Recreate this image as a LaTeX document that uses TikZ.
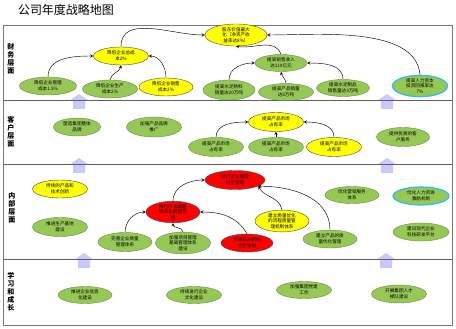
\documentclass[tikz,border=0pt]{standalone}
\usepackage{fontspec}
\setmainfont{Noto Sans CJK SC}
\usetikzlibrary{shapes.geometric}
\definecolor{goalgreen}{RGB}{150,200,85}
\definecolor{goalline}{RGB}{105,140,70}
\definecolor{goalyellow}{RGB}{255,255,0}
\definecolor{goalred}{RGB}{255,0,0}
\definecolor{hrblue}{RGB}{40,190,240}
\definecolor{upblue}{RGB}{200,200,250}
\definecolor{frame}{RGB}{120,120,120}
\tikzset{
  goal/.style={ellipse, draw=goalline, fill=goalgreen, line width=0.4pt,
    minimum width=55pt, minimum height=18pt, inner sep=0pt, align=center,
    font=\fontsize{4.6}{5.6}\selectfont},
  keygoal/.style={goal, draw=black!70, fill=goalyellow},
  hotgoal/.style={goal, draw=black!70, fill=goalred},
  hrgoal/.style={goal, draw=hrblue, line width=1.2pt},
  lane/.style={align=center, inner sep=0pt, font=\bfseries\fontsize{7}{8}\selectfont},
  link/.style={->, line width=0.45pt},
  uparrow/.style={fill=upblue}
}
\begin{document}
\begin{tikzpicture}[x=1pt, y=-1pt, >=stealth]
\useasboundingbox (0,0) rectangle (456,329);
\node (title) at (66,10) {\fontsize{12}{12}\selectfont 公司年度战略地图};
% block arrows between the layers
\foreach \x/\d in {79/100,387/100,79/164,387/164,84/259,386/259}
  \fill[uparrow] (\x-10,\d+1) -- (\x,\d-6) -- (\x+10,\d+1) -- (\x+6,\d+1)
    -- (\x+6,\d+9) -- (\x-6,\d+9) -- (\x-6,\d+1) -- cycle;
\draw[frame, line width=0.8pt] (3,25) rectangle (452,325);
\foreach \d in {100,164,259}
  \draw[frame!80!black, line width=0.8pt] (3,\d) -- (452,\d);
% layer labels
\node[lane] (lfin) at (11,59) {财\\务\\层\\面};
\node[lane] (lcus) at (11,132) {客\\户\\层\\面};
\node[lane] (lint) at (12,208) {内\\部\\层\\面};
\node[lane] (lgrow) at (11,292) {学\\习\\和\\成\\长};
% financial
\node[keygoal, minimum width=62pt, minimum height=22pt] (roe) at (236,35) {股东价值最大\\化（净资产收\\益率达8\%）};
\node[keygoal] (cost) at (121,56) {降低企业总成\\本2\%};
\node[goal, minimum width=57pt] (mcost) at (48,86) {降低企业管理\\成本1.5\%};
\node[goal] (pcost) at (110,89) {降低企业生产\\成本2\%};
\node[keygoal, minimum width=54pt] (scost) at (166,87) {降低企业销售\\成本2\%};
\node[goal, minimum width=52pt, minimum height=17pt] (sales) at (281,63) {提高销售收入\\达110亿元};
\node[goal, minimum width=52pt, minimum height=20pt] (clink) at (229,90) {提高水泥熟料\\销量达20万吨};
\node[goal, minimum height=17pt] (prod) at (286,92) {提高产品销量\\达8万吨};
\node[goal, minimum width=53pt, minimum height=17pt] (serv) at (343,88) {提高水泥制品\\销售量达3万吨};
\node[hrgoal, minimum height=20pt] (hrroi) at (420,86) {提高人力资本\\投资回报率达\\7\%};
\draw[link] (mcost.north) to[out=90,in=180] (cost.west);
\draw[link] (pcost.north) to[out=80,in=-100] (cost.south);
\draw[link] (scost.north) to[out=90,in=0] (cost.east);
\draw[link] (cost.north) to[out=90,in=180] (roe.west);
\draw[link] (sales.north) to[out=110,in=-10] (roe.south);
\draw[link] (clink.north) to[out=90,in=180] (sales.west);
\draw[link] (prod.north) to[out=95,in=-80] (sales.south);
\draw[link] (serv.north) to[out=90,in=0] (sales.east);
\draw[link] (hrroi.north) to[out=95,in=0,looseness=0.8] (roe.east);
% customer
\node[goal, minimum width=47pt] (brand) at (77,127) {塑造集团整体\\品牌};
\node[goal, minimum height=20pt] (promo) at (154,127) {加强产品品牌\\推广};
\node[keygoal, minimum height=19pt] (share) at (276,122) {提高产品市场\\占有率};
\node[goal, minimum height=19pt] (sharea) at (216,147) {提高产品市场\\占有率};
\node[goal, minimum height=19pt] (shareb) at (276,147) {提高产品市场\\占有率};
\node[keygoal, minimum height=19pt] (sharec) at (334,147) {提高产品市场\\占有率};
\node[goal, minimum width=53pt, minimum height=19pt] (care) at (403,137) {提供优质的客\\户服务};
\draw[link] (sharea.north) to[out=90,in=180] (share.west);
\draw[link] (shareb.north) -- (share.south);
\draw[link] (sharec.north) to[out=90,in=0] (share.east);
% internal
\node[keygoal] (innov) at (60,189) {持续的产品和\\技术创新};
\node[goal, minimum height=19pt] (base) at (60,227) {推进生产基地\\建设};
\node[goal, minimum width=54pt, minimum height=19pt] (qsys) at (125,242) {完善企业质量\\管理体系};
\node[goal, minimum height=19pt] (proj) at (183,243) {加强项目管理\\基础管理体系\\建设};
\node[hotgoal, minimum width=54pt, minimum height=19pt] (qstd) at (173,212) {推行产品质量\\标准化质量管\\理};
\node[hotgoal, minimum width=60pt, minimum height=19pt] (mopt) at (235,180) {推行企业管理\\优化管理};
\node[hotgoal, minimum width=52pt] (rnd) at (247,243) {推进研发机构\\优化管理};
\node[keygoal, minimum width=54pt, minimum height=19pt] (qflow) at (282,221) {建立质量优化\\的流程质量管\\理机制体系};
\node[goal, minimum width=54pt] (qprod) at (330,239) {建立产品的质\\量优化管理};
\node[goal, minimum width=54pt, minimum height=17pt] (mkt) at (352,195) {优化营销服务\\体系};
\node[hrgoal, minimum width=56pt] (incent) at (421,196) {优化人力资源\\激励机制};
\node[goal, minimum width=56pt] (lab) at (421,232) {建设现代企业\\科技研发平台};
\draw[link] (qsys.north) to[out=90,in=180] (qstd.west);
\draw[link] (proj.north) to[out=100,in=-90] (qstd.south);
\draw[link] (qstd.north) to[out=90,in=180] (mopt.west);
\draw[link] (rnd.north) to[out=120,in=0] (qstd.east);
\draw[link] (qflow.north) to[out=100,in=-60] (mopt.-15);
\draw[link] (qprod.north) to[out=90,in=0] (mopt.-15);
% learning and growth
\node[goal, minimum width=54pt, minimum height=17pt] (it) at (85,295) {推进企业信息\\化建设};
\node[goal, minimum height=17pt] (culture) at (194,295) {持续进行企业\\文化建设};
\node[goal, minimum height=17pt] (party) at (304,290) {加强集团党建\\工作};
\node[goal] (talent) at (399,294) {开展集团人才\\梯队建设};
\end{tikzpicture}
\end{document}
